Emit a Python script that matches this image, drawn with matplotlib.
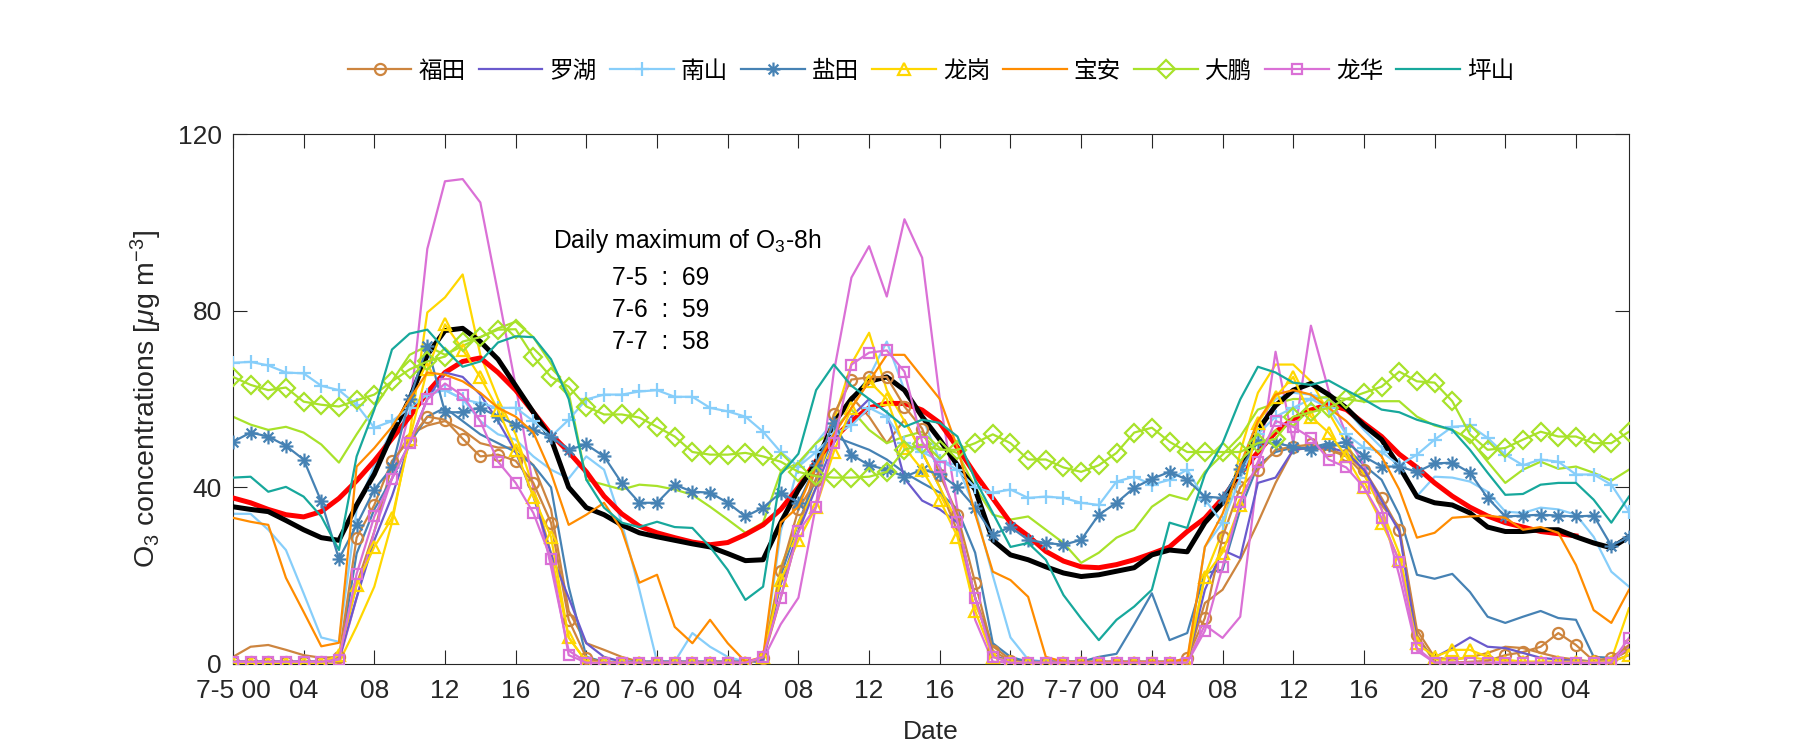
import matplotlib
matplotlib.use("Agg")
import matplotlib.pyplot as plt
import numpy as np
from matplotlib.path import Path

plt.rcParams["font.family"] = ["Liberation Sans", "Noto Sans CJK SC", "DejaVu Sans"]
plt.rcParams["mathtext.fontset"] = "custom"
plt.rcParams["mathtext.rm"] = "Liberation Sans"
plt.rcParams["mathtext.it"] = "Liberation Sans:italic"

# hourly O3 (ug m-3), 7-5 00 .. 7-8 07
hours = list(range(80))

futian = [0.5, 0.5, 0.5, 0.5, 0.5, 0.5, 1.6, 28.6, 36, 46, 50.8, 56, 55.3, 51, 47, 47.4, 46, 41, 32, 10,
          1.4, 0.3, 0.3, 0.3, 0.3, 0.3, 0.3, 0.3, 0.3, 0.3, 1.4, 21, 35, 41.7, 56.5, 64.4, 64.9, 65, 58.3, 53.3,
          42.9, 33.8, 18.4, 3, 0.7, 0.3, 0.3, 0.3, 0.3, 0.3, 0.3, 0.3, 0.3, 0.3, 1.4, 10.4, 28.8, 40, 44, 48.5,
          49.2, 49.7, 48.5, 47.4, 44, 37.6, 30.4, 6.6, 0.3, 0.3, 0.5, 0.7, 2, 2.7, 3.9, 7, 4.3, 0.7, 1.4, 4.3]
futian_b = [1.6, 3.9, 4.3, 3.2, 2, 1.4, 1.6, 18, 30, 45, 52, 54, 55, 53, 50, 49, 49, 45, 35, 12,
            4.7, 3.2, 1.6, 0.5, 0.5, 0.5, 0.5, 0.5, 0.5, 0.5, 1, 15, 30, 45, 55, 60.5, 56, 50, 55.3, 48,
            40, 30, 15, 4, 1, 0.5, 0.5, 0.5, 0.5, 0.5, 0.5, 0.5, 0.5, 0.5, 1, 13.8, 16.8, 23.6, 32, 41,
            48.5, 48.9, 48.5, 47, 42.9, 36, 31, 7.7, 1.5, 1, 1.5, 2.5, 3.9, 3.6, 2.5, 1.5, 1, 0.5, 1, 3]
luohu = [0.5, 0.5, 0.5, 0.5, 0.5, 0.5, 1, 15, 28, 38, 50, 60, 66, 65, 61, 55, 48, 38, 25, 15,
         4.7, 1.6, 0.5, 0.5, 0.5, 0.5, 0.5, 0.5, 0.5, 0.5, 1, 18, 30, 40, 50, 56, 60, 57, 42, 37,
         35, 32, 15, 2, 0.5, 0.5, 0.5, 0.5, 0.5, 0.5, 0.5, 0.5, 0.5, 0.5, 0.5, 16.8, 25.8, 24, 41, 42.2,
         48.5, 49, 49, 48, 44, 37, 30, 5, 1.5, 3.6, 6, 3.9, 3.6, 2.5, 1.4, 1, 0.7, 0.5, 0.5, 2]
nanshan = [68.2, 68.4, 67.6, 66, 65.8, 63, 62, 58.7, 53.5, 55, 58, 61, 62, 60, 59, 58, 58, 55, 51.5, 55.3,
           59.9, 61, 61, 61.7, 62, 60.5, 60.5, 58, 57.2, 56, 52.6, 48, 44.7, 48, 52, 54, 58, 56, 50, 48,
           46, 44, 40, 38.8, 39.5, 37.6, 37.9, 37.6, 36.5, 36, 41.3, 42.4, 40.6, 41.7, 44, 37.2, 32, 42, 52, 56,
           58, 60, 58, 52, 49, 48, 45, 47.4, 50.8, 53.7, 54, 51.2, 47.4, 45, 46.3, 45.8, 42.9, 42.9, 40.6, 34.5]
nanshan_b = [34, 34, 30.4, 25.8, 16, 6, 5, 35, 45, 53, 57, 62, 62, 60, 55, 52, 50.8, 47, 44, 42,
             47, 44, 32, 16.8, 0.5, 0.5, 7, 3.9, 1.6, 0.5, 1, 30, 45, 50, 55, 60, 65, 73, 62, 56,
             46, 45, 35, 20, 6, 1, 0.5, 0.5, 0.5, 0.5, 0.5, 0.5, 0.5, 0.5, 0.5, 26.5, 32, 45, 55, 60,
             61.4, 61, 60, 57.6, 53, 49, 45.6, 38, 42.4, 42.2, 41.3, 39, 34.5, 34.2, 35.4, 35, 33.8, 28.8, 20.9, 17.5]
yantian = [50.3, 52.4, 51.5, 49.4, 46.3, 36.8, 23.8, 31.5, 39.5, 44.5, 60, 72, 57, 57, 58, 56, 54.2, 53, 51.5, 48.5,
           49.7, 47, 41, 36.5, 36.5, 40.6, 39, 38.8, 36.5, 33.4, 35.4, 38.8, 36.5, 45, 54.6, 47.4, 45, 44, 42.4, 44,
           43, 40, 35.4, 29.3, 31, 28.1, 27.4, 27, 28.1, 33.8, 36.5, 39.9, 41.9, 43.5, 41.7, 37.9, 37.6, 44.2, 50.3, 50,
           49.2, 48.5, 49.5, 50.3, 47, 44.7, 44.7, 43.5, 45.4, 45.6, 43.3, 37.6, 33.4, 33.6, 33.8, 33.6, 33.4, 33.6, 26.8, 28.8]
yantian_b = [0.5, 0.5, 0.5, 0.5, 0.5, 0.5, 0.5, 25, 35, 42, 50, 56, 58, 55, 52, 50, 48, 45, 40, 17.5,
             1.6, 0.5, 0.5, 0.5, 0.5, 0.5, 0.5, 0.5, 0.5, 0.5, 0.5, 20, 32, 42, 51.5, 50, 48.5, 46.3, 43.3, 41,
             38.8, 35, 25.2, 4.7, 1.6, 0.5, 0.5, 0.5, 0.5, 1.6, 2.3, 9, 16, 5.4, 7, 20.6, 21.3, 35, 45, 48,
             49, 49, 50, 49, 45, 41.7, 33.8, 20.2, 19.3, 20.4, 16.3, 10.7, 9.3, 10.7, 12, 10.4, 10, 1.6, 1.4, 3.6]
longgang = [0.3, 0.3, 0.3, 0.3, 0.3, 0.3, 2, 17.9, 26.5, 33, 51, 66.7, 76.9, 71.2, 64.9, 57.6, 48.5, 37.9, 28.8, 6,
            0.5, 0.3, 0.3, 0.3, 0.3, 0.3, 0.3, 0.3, 0.3, 0.3, 1.5, 19, 28, 35.6, 48, 58, 64, 60, 49, 44,
            37.2, 28.8, 12, 1.6, 0.5, 0.3, 0.3, 0.3, 0.3, 0.3, 0.3, 0.3, 0.3, 0.3, 0.3, 19.8, 25.2, 36, 54.6, 60.5,
            65, 56, 52.4, 47, 40, 32, 23.6, 4.7, 1.6, 3.2, 3.2, 1.6, 0.5, 0.5, 0.5, 0.5, 0.5, 0.5, 0.5, 2]
longgang_b = [0.3, 0.3, 0.3, 0.3, 0.3, 0.3, 0.3, 8.5, 17.5, 32, 52, 79.6, 83, 88.2, 70, 60, 52, 40, 25, 6,
              0.5, 0.3, 0.3, 0.3, 0.3, 0.3, 0.3, 0.3, 0.3, 0.3, 1, 22, 32, 40, 55, 68, 75, 62, 55, 48,
              40, 32, 15, 2, 0.5, 0.3, 0.3, 0.3, 0.3, 0.3, 0.3, 0.3, 0.3, 0.3, 0.5, 20, 30, 48, 61.4, 67.8,
              67.8, 64, 57, 50, 43, 35, 25, 6, 1, 1, 1.5, 1, 1, 0.5, 0.5, 0.5, 0.5, 0.5, 1, 12.6]
baoan = [33.1, 32.2, 31.5, 19.5, 11.8, 4, 4.8, 44.7, 48.9, 53.7, 60, 66, 65.5, 64, 61.4, 58, 56, 52.4, 43.3, 31.5,
         33.8, 36.5, 30.4, 18.4, 20.2, 8.4, 4.7, 10, 4.7, 0.5, 1.6, 32, 35.6, 45, 52, 58, 64, 70, 70, 65,
         60, 49, 34, 20.9, 19, 15.2, 1.6, 0.5, 0.5, 0.5, 0.5, 0.5, 0.5, 0.5, 1, 26.5, 34, 45, 55, 61,
         62, 61, 58, 55, 51, 47, 39.5, 28.6, 29.7, 33.1, 33.4, 33.6, 33.1, 30.4, 31, 29.7, 22.4, 12.2, 9.3, 16.8]
dapeng = [65, 63.2, 62, 62.6, 59.4, 58.7, 58.3, 59.7, 61, 64, 66.7, 68.5, 69.6, 73, 74, 75.7, 75.8, 69.6, 65, 62.8,
          58.3, 56.5, 56.5, 55.8, 53.7, 51.5, 48, 47.4, 47.4, 47.8, 47, 45.8, 43.5, 42.5, 42.2, 42.2, 42.4, 43.5, 48.5, 49.7,
          48.5, 48.5, 50, 52, 50, 46.3, 46.3, 44.5, 43.5, 45, 47.8, 52.4, 53.5, 50.3, 48, 48, 48, 48, 50, 51,
          56, 57, 58, 60, 61.4, 62.8, 66.2, 64, 63.7, 59.5, 52, 48.5, 48.9, 50.8, 52.6, 51.5, 51.5, 50, 50, 52.6]
dapeng_b = [56, 54.2, 53, 53.7, 52.4, 49.7, 45.6, 52, 58, 64, 70, 72, 70, 72, 74, 76, 77.5, 74, 68, 61.4,
            41.7, 40.6, 39.5, 40.6, 40.3, 39.5, 38.3, 35.6, 32.7, 29.7, 32, 43.5, 45.6, 50, 53, 57.6, 53, 50, 51.5, 52.6,
            48.9, 47.8, 40, 33.8, 32.7, 33.4, 30.4, 27.4, 22.9, 25.2, 28.6, 30.4, 35.6, 38.3, 37.2, 43.5, 47.4, 51.5, 57.6, 59,
            60, 60, 60.5, 60, 59.4, 59.5, 59.5, 56, 54, 53, 50.8, 45.8, 41, 44, 45.8, 44.2, 44.7, 43.3, 41.5, 44]
longhua = [0.5, 0.5, 0.5, 0.5, 0.5, 0.5, 1, 20.4, 33.4, 41.9, 50, 59.9, 63.5, 60.8, 55, 45.8, 41, 34.2, 23.8, 2,
           0.3, 0.3, 0.3, 0.3, 0.3, 0.3, 0.3, 0.3, 0.3, 0.3, 1.6, 15, 30, 35.6, 50, 67.8, 70.5, 71, 66.2, 50.3,
           44.5, 32.2, 15, 1.6, 0.3, 0.3, 0.3, 0.3, 0.3, 0.3, 0.3, 0.3, 0.3, 0.3, 0.3, 7.5, 22, 36.7, 45.8, 55,
           53.7, 51.2, 46.3, 44.5, 40, 33.1, 23.1, 3.6, 0.3, 0.3, 0.3, 0.3, 0.3, 0.3, 0.3, 0.3, 0.3, 0.3, 0.3, 5.9]
longhua_b = [0.5, 0.5, 0.5, 0.5, 0.5, 0.5, 0.5, 15, 30, 42, 57, 94, 109.3, 109.8, 104.5, 84, 63, 40, 22, 3,
             0.5, 0.3, 0.3, 0.3, 0.3, 0.3, 0.3, 0.3, 0.3, 0.3, 1, 9, 15, 36, 66, 87.5, 94.6, 83.2, 100.7, 92,
             60, 35, 10, 0.5, 0.3, 0.3, 0.3, 0.3, 0.3, 0.3, 0.3, 0.3, 0.3, 0.3, 0.5, 8.8, 5.9, 10.7, 43.3, 70.7,
             50, 76.6, 62, 52, 45, 35, 20, 3, 0.3, 0.3, 0.3, 0.3, 0.3, 0.3, 0.3, 0.3, 0.3, 0.3, 0.3, 4]
pingshan = [42.2, 42.4, 39, 40.1, 37.9, 33.4, 25.8, 47, 57.6, 71.2, 74.8, 75.7, 71.2, 67.3, 68.5, 72.8, 74.2, 74, 69, 60,
            41.7, 35.4, 32, 31, 32.2, 31, 30.8, 26.5, 21.3, 14.5, 17.5, 42.9, 47.6, 62, 67.8, 63, 60, 57, 53.7, 55.3,
            54.6, 51.5, 41.7, 34.2, 26.5, 27.4, 23.6, 15.6, 10.3, 5.4, 10, 13, 16.8, 32, 30.8, 42.9, 50, 59.9, 67.3, 66,
            63.7, 63.2, 64.2, 62, 59.9, 57.6, 57, 55.3, 54.2, 53, 48.5, 43.3, 38.3, 38.5, 40.6, 41, 41, 37.2, 32, 37.9]
mean_all = [35.6, 35, 34.5, 32.5, 30.4, 28.6, 28, 36, 43, 52, 60, 70, 75.5, 76, 73, 69, 63, 57, 51, 40,
            35.4, 33.8, 31.5, 29.7, 28.8, 28, 27.2, 26.5, 25, 23.4, 23.6, 32, 39.5, 45.5, 54.6, 60, 64, 65, 62, 56,
            50.8, 45, 39.5, 28, 24.7, 23.6, 22, 20.6, 19.8, 20.2, 21, 21.8, 24.7, 25.8, 25.4, 32, 36.5, 44, 53, 58.5,
            62, 63.5, 61, 58, 54, 50.8, 44.7, 37.9, 36.5, 36, 34.2, 31, 30, 30, 30.4, 30.4, 28.8, 27.4, 26.3, 28.8]
smooth = [37.6, 36.5, 35, 33.8, 33.3, 34.5, 37.5, 41.5, 46, 51, 56, 61.5, 66, 68.5, 69.3, 66, 62, 57, 52, 48,
          43.5, 38, 34, 31.2, 29.7, 28.6, 27.6, 27, 27.5, 29.3, 31.5, 35, 40, 46, 51, 55, 58, 59, 59, 57.5,
          54.6, 49, 43, 37.5, 32, 29, 25.5, 23.3, 22, 21.8, 22.5, 23.6, 25, 26.5, 30, 33, 37.5, 43, 48, 52.5,
          55.5, 57.5, 58.8, 57.6, 54.5, 51.5, 47.5, 44.5, 41, 38, 35.5, 33.5, 32, 31, 30, 29.5, 29]

tick_hours = list(range(0, 80, 4))
tick_labels = ["7-5 00", "04", "08", "12", "16", "20", "7-6 00", "04", "08", "12", "16", "20",
               "7-7 00", "04", "08", "12", "16", "20", "7-8 00", "04"]
max_labels = ["7-5  :  69", "7-6  :  59", "7-7  :  58"]


def asterisk() -> Path:
    # matlab style '*': eight spokes drawn as strokes
    verts, codes = [], []
    for ang in (0, 45, 90, 135):
        a = np.deg2rad(ang)
        dx, dy = np.cos(a), np.sin(a)
        verts += [(-dx, -dy), (dx, dy)]
        codes += [Path.MOVETO, Path.LINETO]
    return Path(verts, codes)


# name, data, color, marker, markersize
STATIONS = [
    ("福田", futian, "#CD853F", "o", 8),
    ("罗湖", luohu, "#6A5ACD", None, 0),
    ("南山", nanshan, "#87CEFA", "+", 10),
    ("盐田", yantian, "#4682B4", asterisk(), 10),
    ("龙岗", longgang, "#FFD700", "^", 9),
    ("宝安", baoan, "#FF8C00", None, 0),
    ("大鹏", dapeng, "#A8E22A", "D", 9),
    ("龙华", longhua, "#DA70D6", "s", 7),
    ("坪山", pingshan, "#17A89C", None, 0),
]
SECOND = [
    (futian_b, "#CD853F"),
    (nanshan_b, "#87CEFA"),
    (yantian_b, "#4682B4"),
    (longgang_b, "#FFD700"),
    (dapeng_b, "#A8E22A"),
    (longhua_b, "#DA70D6"),
]

AXC = "#262626"


def main() -> None:
    fig = plt.figure(figsize=(18, 7.5), dpi=100)
    ax = fig.add_axes([0.1294, 0.1147, 0.7756, 0.7066])

    for data, color in SECOND:
        ax.plot(hours, data, color=color, lw=1.6, zorder=2)

    ax.plot(hours[:len(smooth)], smooth, color="red", lw=3.6, zorder=3)
    ax.plot(hours, mean_all, color="black", lw=3.6, zorder=3)

    for name, data, color, marker, ms in STATIONS:
        kw = {}
        if marker is not None:
            kw = dict(marker=marker, markersize=ms, markerfacecolor="none",
                      markeredgecolor=color, markeredgewidth=1.6)
        ax.plot(hours, data, color=color, lw=1.6, label=name, zorder=4, **kw)

    ax.set_xlim(0, 79)
    ax.set_ylim(0, 120)
    ax.set_xticks(tick_hours, tick_labels)
    ax.set_yticks([0, 40, 80, 120])
    ax.tick_params(direction="in", top=True, right=True, length=10, width=0.8,
                   labelsize=19, colors=AXC)
    ax.tick_params(axis="x", pad=11)
    ax.tick_params(axis="y", pad=8)
    for sp in ax.spines.values():
        sp.set_color(AXC)
        sp.set_linewidth(0.8)

    ax.set_xlabel("Date", fontsize=19, color=AXC, labelpad=12)
    ax.set_ylabel(r"O$_3$ concentrations [$\mu$g m$^{-3}$]", fontsize=20.5, color=AXC, labelpad=10)

    ax.text(18.1, 95.8, r"Daily maximum of O$_3$-8h", fontsize=17.7, ha="left", va="center", color="black")
    for i, lab in enumerate(max_labels):
        ax.text(24.2, 87.5 - i * 7.3, lab, fontsize=17.7, ha="center", va="center", color="black")

    ax.legend(loc="center", bbox_to_anchor=(0.5, 1.118), ncol=9, frameon=False,
              fontsize=17, handlelength=2.7, handletextpad=0.3, columnspacing=0.55)

    fig.savefig("out.png", dpi=100)
    plt.close(fig)


if __name__ == "__main__":
    main()
